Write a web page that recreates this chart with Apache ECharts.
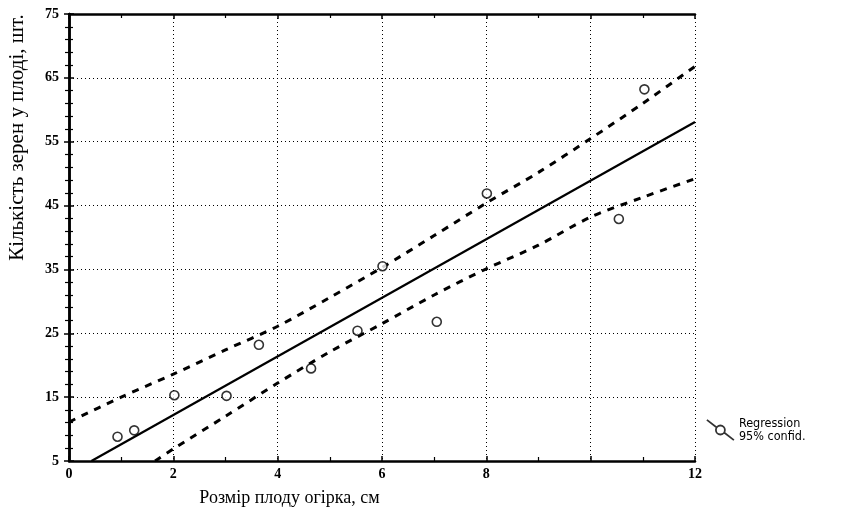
<!DOCTYPE html>
<html><head><meta charset="utf-8">
<script src="https://cdn.jsdelivr.net/npm/echarts@6/dist/echarts.min.js"></script>
<style>html,body{margin:0;padding:0;background:#fff}#c{width:846px;height:509px}</style>
</head><body><div id="c"></div>
<script>
// Observations: fruit size (cm) vs seeds per fruit
const sizeX = [0.93, 1.25, 2.02, 3.02, 3.64, 4.64, 5.53, 6.01, 7.05, 8.01, 10.54, 11.03];
const seedsY = [8.8, 9.8, 15.3, 15.2, 23.2, 19.5, 25.4, 35.5, 26.8, 46.9, 42.9, 63.2];
// Regression line
const regX = [0.43, 12];
const regY = [5, 58.1];
// 95% confidence band
const upperX = [0, 1, 2, 3, 4, 5, 6, 7, 8, 9, 10, 11, 12];
const upperY = [11.1, 15.0, 18.6, 22.4, 26.1, 30.6, 35.3, 40.3, 45.4, 50.2, 55.5, 61.0, 66.8];
const lowerX = [1.65, 2, 3, 4, 5, 6, 7, 8, 9, 10, 11, 12];
const lowerY = [5, 6.9, 12.0, 17.2, 22.1, 26.5, 31.0, 35.1, 38.8, 43.2, 46.3, 49.2];
// Axis ticks
const xTicks = [0, 2, 4, 6, 8, 10, 12];
const xLabelHidden = [10];
const yTicks = [5, 15, 25, 35, 45, 55, 65, 75];

const zip = (a, b) => a.map((v, i) => [v, b[i]]);
const serif = 'Liberation Serif';
const legendName = 'Regression\n95% confid.';

const chart = echarts.init(document.getElementById('c'), null, {renderer: 'canvas'});
const frame = {lineStyle: {color: '#000', width: 2.5}};
const tickIn = {show: true, inside: true, length: 5, lineStyle: {color: '#000', width: 1.5}};
const minorIn = (n) => ({show: true, splitNumber: n, length: 4, lineStyle: {color: '#000', width: 1.2}});
chart.setOption({
  backgroundColor: '#fff',
  animation: false,
  grid: {left: 69, right: 151, top: 14, bottom: 48, containLabel: false, outerBoundsMode: 'none'},
  legend: {
    left: 701, top: 412,
    itemWidth: 27, itemHeight: 22, itemGap: 0,
    textStyle: {fontFamily: 'Liberation Sans Narrow, DejaVu Sans Condensed, sans-serif', fontSize: 12.5, color: '#000', lineHeight: 13},
    data: [{
      name: legendName,
      icon: 'path://M0,0 L9,7 M15,11 L24,18 M16,9 A4,4,0,1,1,8,9 A4,4,0,1,1,16,9 Z',
      itemStyle: {color: 'rgba(0,0,0,0)', borderColor: '#000', borderWidth: 1.8}
    }]
  },
  xAxis: [{
    type: 'value', min: xTicks[0], max: xTicks[xTicks.length - 1], interval: 2,
    position: 'bottom',
    name: 'Розмір плоду огірка, см', nameLocation: 'middle', nameGap: 28,
    nameTextStyle: {fontFamily: serif, fontSize: 18, color: '#000', padding: [0, 185, 0, 0]},
    axisLine: frame, axisTick: tickIn,
    minorTick: minorIn(2),
    axisLabel: {fontFamily: serif, fontSize: 14, fontWeight: 'bold', color: '#000', margin: 6,
      formatter: v => xLabelHidden.includes(v) ? '' : String(v)},
    splitLine: {show: true, lineStyle: {color: '#000', width: 1, type: [1, 3]}}
  }, {
    type: 'value', min: xTicks[0], max: xTicks[xTicks.length - 1], interval: 2,
    position: 'top', axisLine: frame, axisTick: tickIn, minorTick: minorIn(2),
    axisLabel: {show: false}, splitLine: {show: false}
  }],
  yAxis: [{
    type: 'value', min: yTicks[0], max: yTicks[yTicks.length - 1], interval: 10,
    position: 'left',
    name: 'Кількість зерен у плоді, шт.', nameLocation: 'middle', nameGap: 41,
    nameTextStyle: {fontFamily: serif, fontSize: 21, color: '#000', padding: [0, 0, 0, 200]},
    axisLine: frame, axisTick: tickIn, minorTick: minorIn(5),
    axisLabel: {fontFamily: serif, fontSize: 14, fontWeight: 'bold', color: '#000', margin: 10},
    splitLine: {show: true, lineStyle: {color: '#000', width: 1, type: [1, 3]}}
  }, {
    type: 'value', min: yTicks[0], max: yTicks[yTicks.length - 1], interval: 10,
    position: 'right', axisLine: frame, axisTick: tickIn, minorTick: minorIn(5),
    axisLabel: {show: false}, splitLine: {show: false}
  }],
  series: [{
    type: 'line', name: 'reg', data: zip(regX, regY), showSymbol: false, silent: true,
    lineStyle: {color: '#000', width: 2.2}, z: 3
  }, {
    type: 'line', name: 'upper', data: zip(upperX, upperY), showSymbol: false, smooth: 0.3, silent: true,
    lineStyle: {color: '#000', width: 3, type: [7, 7]}, z: 3
  }, {
    type: 'line', name: 'lower', data: zip(lowerX, lowerY), showSymbol: false, smooth: 0.3, silent: true,
    lineStyle: {color: '#000', width: 3, type: [7, 7]}, z: 3
  }, {
    type: 'scatter', name: legendName, data: zip(sizeX, seedsY),
    symbol: 'circle', symbolSize: 9,
    itemStyle: {color: '#fff', borderColor: '#000', borderWidth: 1.6}, z: 5
  }]
});
</script></body></html>
